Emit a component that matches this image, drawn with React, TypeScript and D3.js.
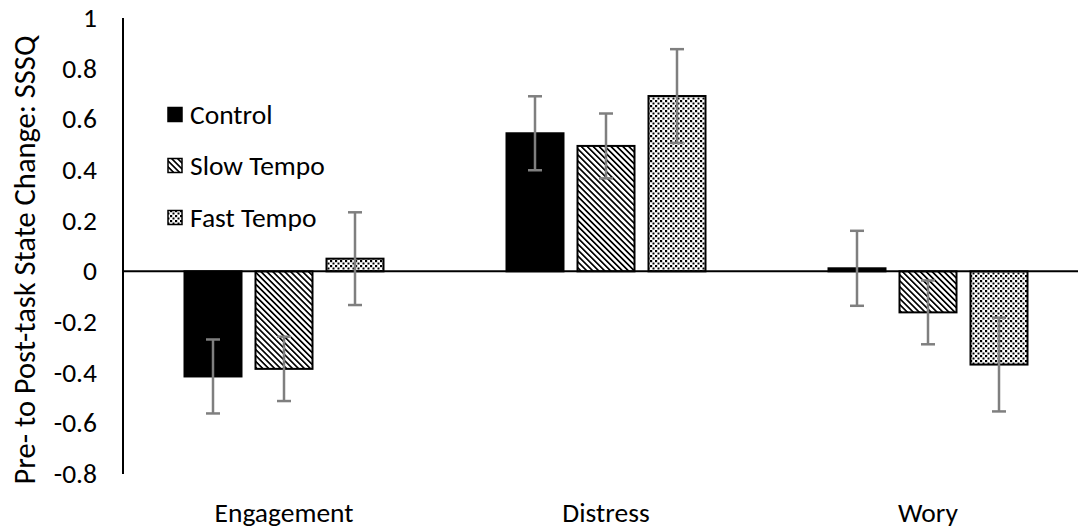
import React from "react";
import * as d3 from "d3";

const categories = ["Engagement", "Distress", "Wory"];
const seriesNames = ["Control", "Slow Tempo", "Fast Tempo"];
const controlValues = [-0.415, 0.545, 0.012];
const slowValues = [-0.385, 0.495, -0.162];
const fastValues = [0.05, 0.692, -0.368];
const controlErr = [0.146, 0.146, 0.148];
const slowErr = [0.127, 0.128, 0.126];
const fastErr = [0.183, 0.185, 0.185];
const yTicks = [1, 0.8, 0.6, 0.4, 0.2, 0, -0.2, -0.4, -0.6, -0.8];

const W = 1078;
const H = 529;
const font = "Calibri, Carlito, 'Open Sans', 'Noto Sans', sans-serif";

export default function App() {
  const x0 = 123;
  const band = 322;
  const x = d3
    .scaleBand<string>()
    .domain(categories)
    .range([x0, x0 + band * 3])
    .paddingInner(0)
    .paddingOuter(0);
  const y = d3.scaleLinear().domain([-0.8, 1]).range([474, 18]);
  const barW = 57;
  const gap = 14;
  const values = [controlValues, slowValues, fastValues];
  const errs = [controlErr, slowErr, fastErr];
  const fills = ["#000", "url(#slow)", "url(#fast)"];

  const barX = (ci: number, si: number) => {
    const c = (x(categories[ci]) as number) + x.bandwidth() / 2;
    return c + (si - 1) * (barW + gap) - barW / 2;
  };

  return (
    <svg width={W} height={H} style={{ position: "absolute", left: 0, top: 0, background: "#fff" }}>
      <defs>
        <pattern id="slow" patternUnits="userSpaceOnUse" width="4.2" height="4.2" patternTransform="rotate(-45)">
          <rect width="4.2" height="4.2" fill="#fff" />
          <rect x="0" y="0" width="1.7" height="4.2" fill="#000" />
        </pattern>
        <pattern id="fast" patternUnits="userSpaceOnUse" width="5" height="5">
          <rect width="5" height="5" fill="#fff" />
          <rect x="0" y="0" width="2" height="2" fill="#000" />
          <rect x="2.5" y="2.5" width="2" height="2" fill="#000" />
          <rect x="2" y="0.5" width="0.5" height="1" fill="#444" />
          <rect x="0.5" y="2" width="1" height="0.5" fill="#444" />
        </pattern>
      </defs>
      <rect width={W} height={H} fill="#fff" />
      {/* y axis */}
      <line x1={x0} x2={x0} y1={y(1)} y2={y(-0.8)} stroke="#000" strokeWidth={2} />
      {yTicks.map((t) => (
        <text
          key={t}
          x={x0 - 26}
          y={y(t)}
          dy="0.33em"
          textAnchor="end"
          fontFamily={font}
          fontSize={27.5}
          fill="#000"
        >
          {t}
        </text>
      ))}
      <text
        transform={`translate(25,${(y(1) + y(-0.8)) / 2 + 14}) rotate(-90)`}
        textAnchor="middle"
        fontFamily={font}
        fontSize={30.5}
        fill="#000"
        dy="0.33em"
      >
        Pre- to Post-task State Change: SSSQ
      </text>
      {/* bars */}
      {categories.map((cat, ci) =>
        values.map((vals, si) => {
          const v = vals[ci];
          const bx = barX(ci, si);
          return (
            <rect
              key={cat + si}
              x={bx}
              y={Math.min(y(v), y(0))}
              width={barW}
              height={Math.abs(y(v) - y(0))}
              fill={fills[si]}
              stroke="#000"
              strokeWidth={2}
            />
          );
        })
      )}
      {/* zero line */}
      <line x1={x0} x2={W} y1={y(0)} y2={y(0)} stroke="#000" strokeWidth={2} />
      {/* error bars */}
      {categories.map((cat, ci) =>
        values.map((vals, si) => {
          const v = vals[ci];
          const e = errs[si][ci];
          const cx = barX(ci, si) + barW / 2;
          return (
            <g key={"e" + cat + si} stroke="#7f7f7f" strokeWidth={2.5}>
              <line x1={cx} x2={cx} y1={y(v + e)} y2={y(v - e)} />
              <line x1={cx - 7} x2={cx + 7} y1={y(v + e)} y2={y(v + e)} />
              <line x1={cx - 7} x2={cx + 7} y1={y(v - e)} y2={y(v - e)} />
            </g>
          );
        })
      )}
      {/* category labels */}
      {categories.map((cat) => (
        <text
          key={cat}
          x={(x(cat) as number) + x.bandwidth() / 2}
          y={522}
          textAnchor="middle"
          fontFamily={font}
          fontSize={27.5}
          fill="#000"
        >
          {cat}
        </text>
      ))}
      {/* legend */}
      {seriesNames.map((name, si) => {
        const ly = [115, 166, 218][si];
        return (
          <g key={name}>
            <rect x={168} y={ly - 7.5} width={14} height={14} fill={fills[si]} stroke="#000" strokeWidth={1.5} />
            <text x={190} y={ly} dy="0.33em" fontFamily={font} fontSize={27.5} fill="#000">
              {name}
            </text>
          </g>
        );
      })}
    </svg>
  );
}
